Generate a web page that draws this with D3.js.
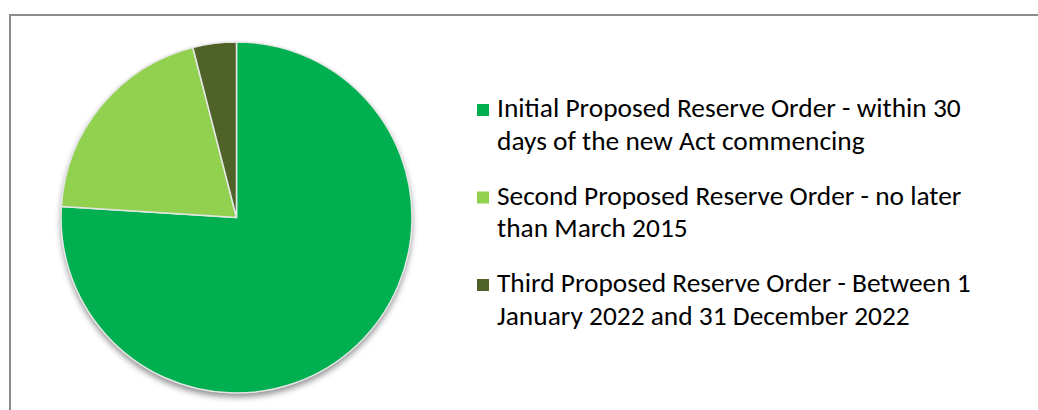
<!DOCTYPE html>
<html>
<head>
<meta charset="utf-8">
<script src="https://cdn.jsdelivr.net/npm/d3@7"></script>
<style>
  body { margin: 0; background: #fff; }
  svg { display: block; }
</style>
</head>
<body>
<div id="chart"></div>
<script>
// ------- data -----------
var categories = [
  "Initial Proposed Reserve Order - within 30 days of the new Act commencing",
  "Second Proposed Reserve Order - no later than March 2015",
  "Third Proposed Reserve Order - Between 1 January 2022 and 31 December 2022"
];
// legend lines, as wrapped in the picture
var legend_lines = [
  ["Initial Proposed Reserve Order - within 30", "days of the new Act commencing"],
  ["Second Proposed Reserve Order - no later", "than March 2015"],
  ["Third Proposed Reserve Order - Between 1", "January 2022 and 31 December 2022"]
];
var values = [76, 20, 4];
var colors = ["#00b050", "#92d050", "#4f6228"];

// ------- layout -----------
var W = 1038, H = 410;
var cx = 236.5, cy = 217.5, r = 175.5;

var svg = d3.select("#chart").append("svg")
  .attr("width", W)
  .attr("height", H);

// chart frame
svg.append("rect")
  .attr("x", 10).attr("y", 15)
  .attr("width", W + 20).attr("height", H + 20)
  .attr("fill", "#fff")
  .attr("stroke", "#8c8c8c")
  .attr("stroke-width", 2);

var defs = svg.append("defs");
var shadow = defs.append("filter").attr("id", "shadow")
  .attr("x", "-20%").attr("y", "-20%").attr("width", "140%").attr("height", "140%");
shadow.append("feDropShadow")
  .attr("dx", 0).attr("dy", 4)
  .attr("stdDeviation", 3)
  .attr("flood-color", "#000")
  .attr("flood-opacity", 0.45);

var pie = d3.pie().sort(null).value(function(d) { return d; });
var arc = d3.arc().innerRadius(0).outerRadius(r);

var color = d3.scaleOrdinal().domain(d3.range(values.length)).range(colors);

var g = svg.append("g")
  .attr("transform", "translate(" + cx + "," + cy + ")");

// shadow under the whole pie
g.append("circle")
  .attr("r", r)
  .attr("fill", "#fff")
  .attr("filter", "url(#shadow)");

g.selectAll("path.slice")
  .data(pie(values))
  .enter().append("path")
  .classed("slice", true)
  .attr("d", arc)
  .attr("fill", function(d, i) { return color(i); })
  .attr("stroke", "#e6e6e6")
  .attr("stroke-width", 1.5)
  .attr("stroke-linejoin", "round");

// ------- legend -----------
var lx = 477, ly = 117, pitch = 87.5, lineH = 32.5, box = 12;
var font = "Calibri, Carlito, 'Open Sans', sans-serif";
var fsize = 22;

var leg = svg.append("g");
var items = leg.selectAll("g.item")
  .data(legend_lines)
  .enter().append("g").classed("item", true)
  .attr("transform", function(d, i) { return "translate(" + lx + "," + (ly + i * pitch) + ")"; });

items.append("rect")
  .attr("x", 0).attr("y", -box - 1)
  .attr("width", box).attr("height", box)
  .attr("fill", function(d, i) { return color(i); });

var texts = items.append("text")
  .attr("x", 20)
  .attr("font-family", font)
  .attr("font-size", fsize)
  .attr("fill", "#000");

texts.selectAll("tspan")
  .data(function(d) { return d; })
  .enter().append("tspan")
  .attr("x", 20)
  .attr("y", function(d, i) { return i * lineH; })
  .text(function(d) { return d; });

// fit the font so the first line is as wide as in the picture
var first = texts.select("tspan").node();
var w = first.getComputedTextLength();
var target = 464;
texts.attr("font-size", fsize * target / w);
</script>
</body>
</html>
